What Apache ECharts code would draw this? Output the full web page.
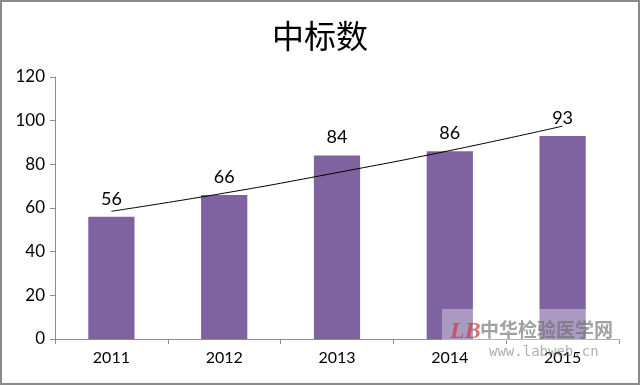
<!DOCTYPE html>
<html><head><meta charset="utf-8">
<script src="https://cdn.jsdelivr.net/npm/echarts@6/dist/echarts.min.js"></script>
<style>html,body{margin:0;padding:0;background:#fff}#c{width:640px;height:385px;box-sizing:border-box;border:2px solid #8a8a8a}</style>
</head><body><div id="c"></div>
<script>
const categories = ['2011','2012','2013','2014','2015'];
const values = [56, 66, 84, 86, 93];
const trend = [58.5, 66.8, 76.2, 86.3, 97.5];
const yTicks = [0, 20, 40, 60, 80, 100, 120];

const chart = echarts.init(document.getElementById('c'));
chart.setOption({
  animation: false,
  title: { text: '中标数', left: 'center', top: 13,
    textStyle: { fontFamily: 'Noto Sans CJK SC', fontSize: 32, fontWeight: 'normal', color: '#000' } },
  grid: { left: 53, right: 19, top: 75, bottom: 44 },
  xAxis: { type: 'category', data: categories,
    axisLine: { lineStyle: { color: '#8c8c8c' } },
    axisTick: { show: true, alignWithLabel: false, length: 5, lineStyle: { color: '#8c8c8c' } },
    axisLabel: { color: '#000', fontSize: 16, fontFamily: 'Lato', margin: 11 } },
  yAxis: { type: 'value', min: yTicks[0], max: yTicks[yTicks.length-1], interval: 20,
    axisLine: { show: true, lineStyle: { color: '#8c8c8c' } },
    axisTick: { show: true, length: 5, lineStyle: { color: '#8c8c8c' } },
    splitLine: { show: false },
    axisLabel: { color: '#000', fontSize: 17, fontFamily: 'Lato', margin: 10 } },
  series: [
    { type: 'bar', data: values, barWidth: '41%',
      itemStyle: { color: '#7f63a0' },
      label: { show: true, position: 'top', distance: 9, color: '#000', fontSize: 18, fontFamily: 'Lato' } },
    { type: 'line', data: trend, smooth: true, symbol: 'none',
      lineStyle: { color: '#000', width: 1 }, z: 5 }
  ],
  graphic: [
    { type: 'rect', left: 440, top: 307, shape: { width: 178, height: 32 }, style: { fill: 'rgba(255,255,255,0.35)' }, z: 100 },
    { type: 'text', left: 478, top: 318, style: { text: '中华检验医学网', font: 'bold 19px "Noto Sans CJK SC"', fill: 'rgba(110,110,110,0.65)' }, z: 101 },
    { type: 'text', left: 487, top: 343, style: { text: 'www.labweb.cn', font: '14px "DejaVu Sans Mono"', fill: 'rgba(120,120,120,0.6)' }, z: 101 },
    { type: 'text', left: 448, top: 318, style: { text: 'LB', font: 'italic bold 24px "Liberation Serif"', fill: 'rgba(200,60,60,0.7)' }, z: 101 }
  ]
});
</script></body></html>
